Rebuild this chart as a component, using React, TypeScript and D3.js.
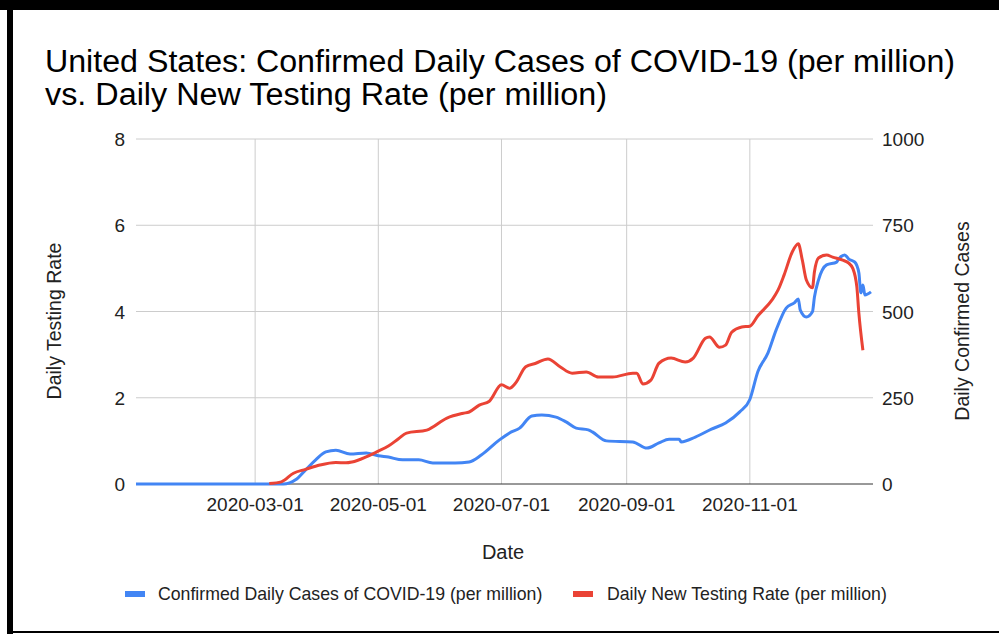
import React from "react";
import * as d3 from "d3";

const casesDates = [
  "2020-01-02","2020-03-15","2020-03-21","2020-03-26","2020-03-31","2020-04-05","2020-04-10","2020-04-17","2020-04-25","2020-05-01","2020-05-06","2020-05-13","2020-05-21","2020-05-28","2020-06-08","2020-06-15","2020-06-21","2020-06-30","2020-07-05","2020-07-10","2020-07-16","2020-07-21","2020-07-28","2020-08-02","2020-08-07","2020-08-13","2020-08-15","2020-08-22","2020-09-04","2020-09-11","2020-09-17","2020-09-22","2020-09-27","2020-09-28","2020-10-05","2020-10-13","2020-10-20","2020-10-27","2020-11-01","2020-11-05","2020-11-10","2020-11-14","2020-11-19","2020-11-23","2020-11-25","2020-11-26","2020-11-29","2020-12-02","2020-12-03","2020-12-05","2020-12-09","2020-12-14","2020-12-15","2020-12-18","2020-12-20","2020-12-23","2020-12-25","2020-12-26","2020-12-27","2020-12-28","2020-12-31"
];
const casesValues = [
  0,0,12,41,70,93,98,87,90,82,78,70,70,61,61,64,84,128,148,162,197,200,194,180,162,157,151,125,122,104,119,130,130,122,136,159,177,209,245,326,380,446,510,525,536,504,484,499,542,591,635,643,652,664,652,643,612,554,577,548,557
];

const testDates = [
  "2020-03-08","2020-03-14","2020-03-20","2020-03-26","2020-04-02","2020-04-10","2020-04-15","2020-04-18","2020-04-25","2020-04-30","2020-05-06","2020-05-11","2020-05-15","2020-05-25","2020-06-04","2020-06-12","2020-06-15","2020-06-20","2020-06-25","2020-07-01","2020-07-05","2020-07-08","2020-07-13","2020-07-18","2020-07-24","2020-07-30","2020-08-05","2020-08-12","2020-08-18","2020-08-25","2020-09-04","2020-09-06","2020-09-09","2020-09-13","2020-09-17","2020-09-23","2020-09-30","2020-10-04","2020-10-10","2020-10-12","2020-10-17","2020-10-20","2020-10-23","2020-10-28","2020-11-01","2020-11-05","2020-11-12","2020-11-15","2020-11-18","2020-11-22","2020-11-25","2020-11-27","2020-11-29","2020-12-02","2020-12-03","2020-12-05","2020-12-09","2020-12-12","2020-12-17","2020-12-20","2020-12-22","2020-12-24","2020-12-25","2020-12-27"
];
const testValues = [
  0.01,0.05,0.25,0.34,0.44,0.5,0.49,0.51,0.63,0.74,0.88,1.05,1.18,1.25,1.53,1.64,1.67,1.83,1.92,2.3,2.22,2.34,2.72,2.8,2.9,2.72,2.57,2.6,2.48,2.48,2.57,2.57,2.32,2.41,2.8,2.92,2.83,2.92,3.38,3.41,3.17,3.22,3.52,3.64,3.66,3.9,4.27,4.5,4.85,5.38,5.57,5.19,4.73,4.55,4.92,5.24,5.31,5.26,5.19,5.12,5.0,4.57,3.96,3.1
];

const xTickLabels = ["2020-03-01","2020-05-01","2020-07-01","2020-09-01","2020-11-01"];
const leftTicks = [0, 2, 4, 6, 8];
const rightTicks = [0, 250, 500, 750, 1000];

const titleLines = [
  "United States: Confirmed Daily Cases of COVID-19 (per million)",
  "vs. Daily New Testing Rate (per million)",
];
const seriesNames = ["Confirmed Daily Cases of COVID-19 (per million)", "Daily New Testing Rate (per million)"];

const BLUE = "#4285F4";
const RED = "#EA4335";
const FONT = "'Liberation Sans', Arial, Helvetica, sans-serif";

export default function App() {
  const parse = d3.timeParse("%Y-%m-%d");
  const W = 999, H = 635;
  const left = 136, right = 873, top = 139, bottom = 484;

  const x = d3.scaleTime()
    .domain([parse("2020-01-02")!, parse("2021-01-01")!])
    .range([left, right]);
  const yL = d3.scaleLinear().domain([0, 8]).range([bottom, top]);
  const yR = d3.scaleLinear().domain([0, 1000]).range([bottom, top]);

  const cases = casesDates.map((d, i) => ({ d: parse(d)!, v: casesValues[i] }));
  const tests = testDates.map((d, i) => ({ d: parse(d)!, v: testValues[i] }));

  const caseLine = d3.line<{ d: Date; v: number }>().x(p => x(p.d)).y(p => yR(p.v)).curve(d3.curveMonotoneX);
  const testLine = d3.line<{ d: Date; v: number }>().x(p => x(p.d)).y(p => yL(p.v)).curve(d3.curveMonotoneX);

  return (
    <svg width={W} height={H} style={{ position: "absolute", left: 0, top: 0, background: "#fff" }} fontFamily={FONT}>
      <rect x={0} y={0} width={W} height={H} fill="#fff" />
      {/* frame */}
      <rect x={0} y={0} width={W} height={10} fill="#000" />
      <rect x={7} y={0} width={6} height={634} fill="#000" />
      <rect x={7} y={631} width={W - 7} height={2} fill="#000" />

      {/* title */}
      <text x={45} y={72} fontSize={31} fill="#000" textLength={910} lengthAdjust="spacingAndGlyphs">{titleLines[0]}</text>
      <text x={45} y={105} fontSize={31} fill="#000" textLength={562} lengthAdjust="spacingAndGlyphs">{titleLines[1]}</text>

      {/* gridlines */}
      {leftTicks.filter(t => t !== 0).map(t => (
        <line key={"h" + t} x1={left} x2={right} y1={yL(t)} y2={yL(t)} stroke="#cccccc" strokeWidth={1} />
      ))}
      {xTickLabels.map(t => (
        <line key={"v" + t} x1={x(parse(t)!)} x2={x(parse(t)!)} y1={top} y2={bottom} stroke="#cccccc" strokeWidth={1} />
      ))}
      <line x1={left} x2={right} y1={bottom} y2={bottom} stroke="#333" strokeWidth={1} />

      {/* series */}
      <path d={caseLine(cases) || ""} fill="none" stroke={BLUE} strokeWidth={3} strokeLinejoin="round" />
      <path d={testLine(tests) || ""} fill="none" stroke={RED} strokeWidth={3} strokeLinejoin="round" />

      {/* left ticks */}
      {leftTicks.map(t => (
        <text key={"l" + t} x={125} y={yL(t) + 7} fontSize={19} textAnchor="end" fill="#222">{t}</text>
      ))}
      {/* right ticks */}
      {rightTicks.map(t => (
        <text key={"r" + t} x={882} y={yR(t) + 7} fontSize={19} textAnchor="start" fill="#222">{t}</text>
      ))}
      {/* x ticks */}
      {xTickLabels.map(t => (
        <text key={"x" + t} x={x(parse(t)!)} y={511} fontSize={19} textAnchor="middle" fill="#222">{t}</text>
      ))}

      {/* axis titles */}
      <text x={503} y={559} fontSize={20} textAnchor="middle" fill="#222">Date</text>
      <text transform={`translate(61,321) rotate(-90)`} fontSize={19.5} textAnchor="middle" fill="#222">Daily Testing Rate</text>
      <text transform={`translate(969,321) rotate(-90)`} fontSize={19.5} textAnchor="middle" fill="#222">Daily Confirmed Cases</text>

      {/* legend */}
      <rect x={125} y={591} width={20} height={6} fill={BLUE} />
      <text x={158} y={600} fontSize={17.7} fill="#222">{seriesNames[0]}</text>
      <rect x={573} y={591} width={20} height={6} fill={RED} />
      <text x={607} y={600} fontSize={17.7} fill="#222">{seriesNames[1]}</text>
    </svg>
  );
}
